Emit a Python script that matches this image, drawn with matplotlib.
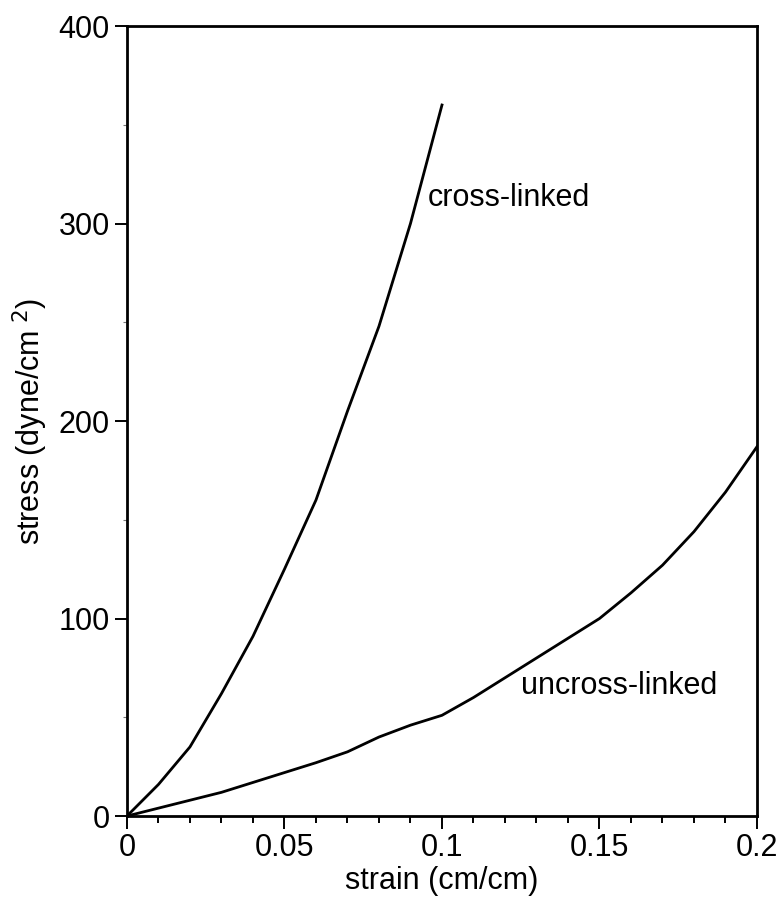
import matplotlib
matplotlib.use("Agg")
import matplotlib.pyplot as plt
from matplotlib.ticker import MultipleLocator, FuncFormatter

# valores
strain = [0, 0.01, 0.02, 0.03, 0.04, 0.05, 0.06, 0.07, 0.08, 0.09, 0.10,
          0.11, 0.12, 0.13, 0.14, 0.15, 0.16, 0.17, 0.18, 0.19, 0.20]
cross_strain = strain[:11]
cross_stress = [0, 16, 35, 62, 91, 125, 160, 205, 248, 300, 360]
uncross_stress = [0, 4, 8, 12, 17, 22, 27, 32.5, 40, 46, 51,
                  60, 70, 80, 90, 100, 113, 127, 144, 164, 187]

plt.rcParams['font.family'] = ['Liberation Sans', 'DejaVu Sans']

fig = plt.figure(figsize=(7.78, 9), dpi=100)
ax = fig.add_axes([0.1632, 0.0933, 0.8098, 0.8778])

ax.plot(cross_strain, cross_stress, color="black", lw=2)
ax.plot(strain, uncross_stress, color="black", lw=2)

ax.text(0.0955, 313, "cross-linked", fontsize=22, ha="left", va="center")
ax.text(0.125, 66, "uncross-linked", fontsize=22, ha="left", va="center")

ax.set_xlim(0, 0.2)
ax.set_ylim(0, 400)
ax.xaxis.set_major_locator(MultipleLocator(0.05))
ax.xaxis.set_minor_locator(MultipleLocator(0.01))
ax.yaxis.set_major_locator(MultipleLocator(100))
ax.yaxis.set_minor_locator(MultipleLocator(50))
ax.xaxis.set_major_formatter(FuncFormatter(lambda v, p: "0" if abs(v) < 1e-9 else f"{v:g}"))
ax.tick_params(axis="both", which="major", direction="out", length=9, width=1.4,
               labelsize=22)
ax.tick_params(axis="x", which="minor", direction="out", length=5, width=1.4)
ax.tick_params(axis="y", which="minor", direction="out", length=3, width=0.8,
               color="#777777")
for s in ax.spines.values():
    s.set_linewidth(2)

ax.set_xlabel("strain (cm/cm)", fontsize=22, labelpad=2)
ax.set_ylabel("stress (dyne/cm$^{\\ 2}$)", fontsize=22, labelpad=6)

fig.savefig("out.png", dpi=100)
